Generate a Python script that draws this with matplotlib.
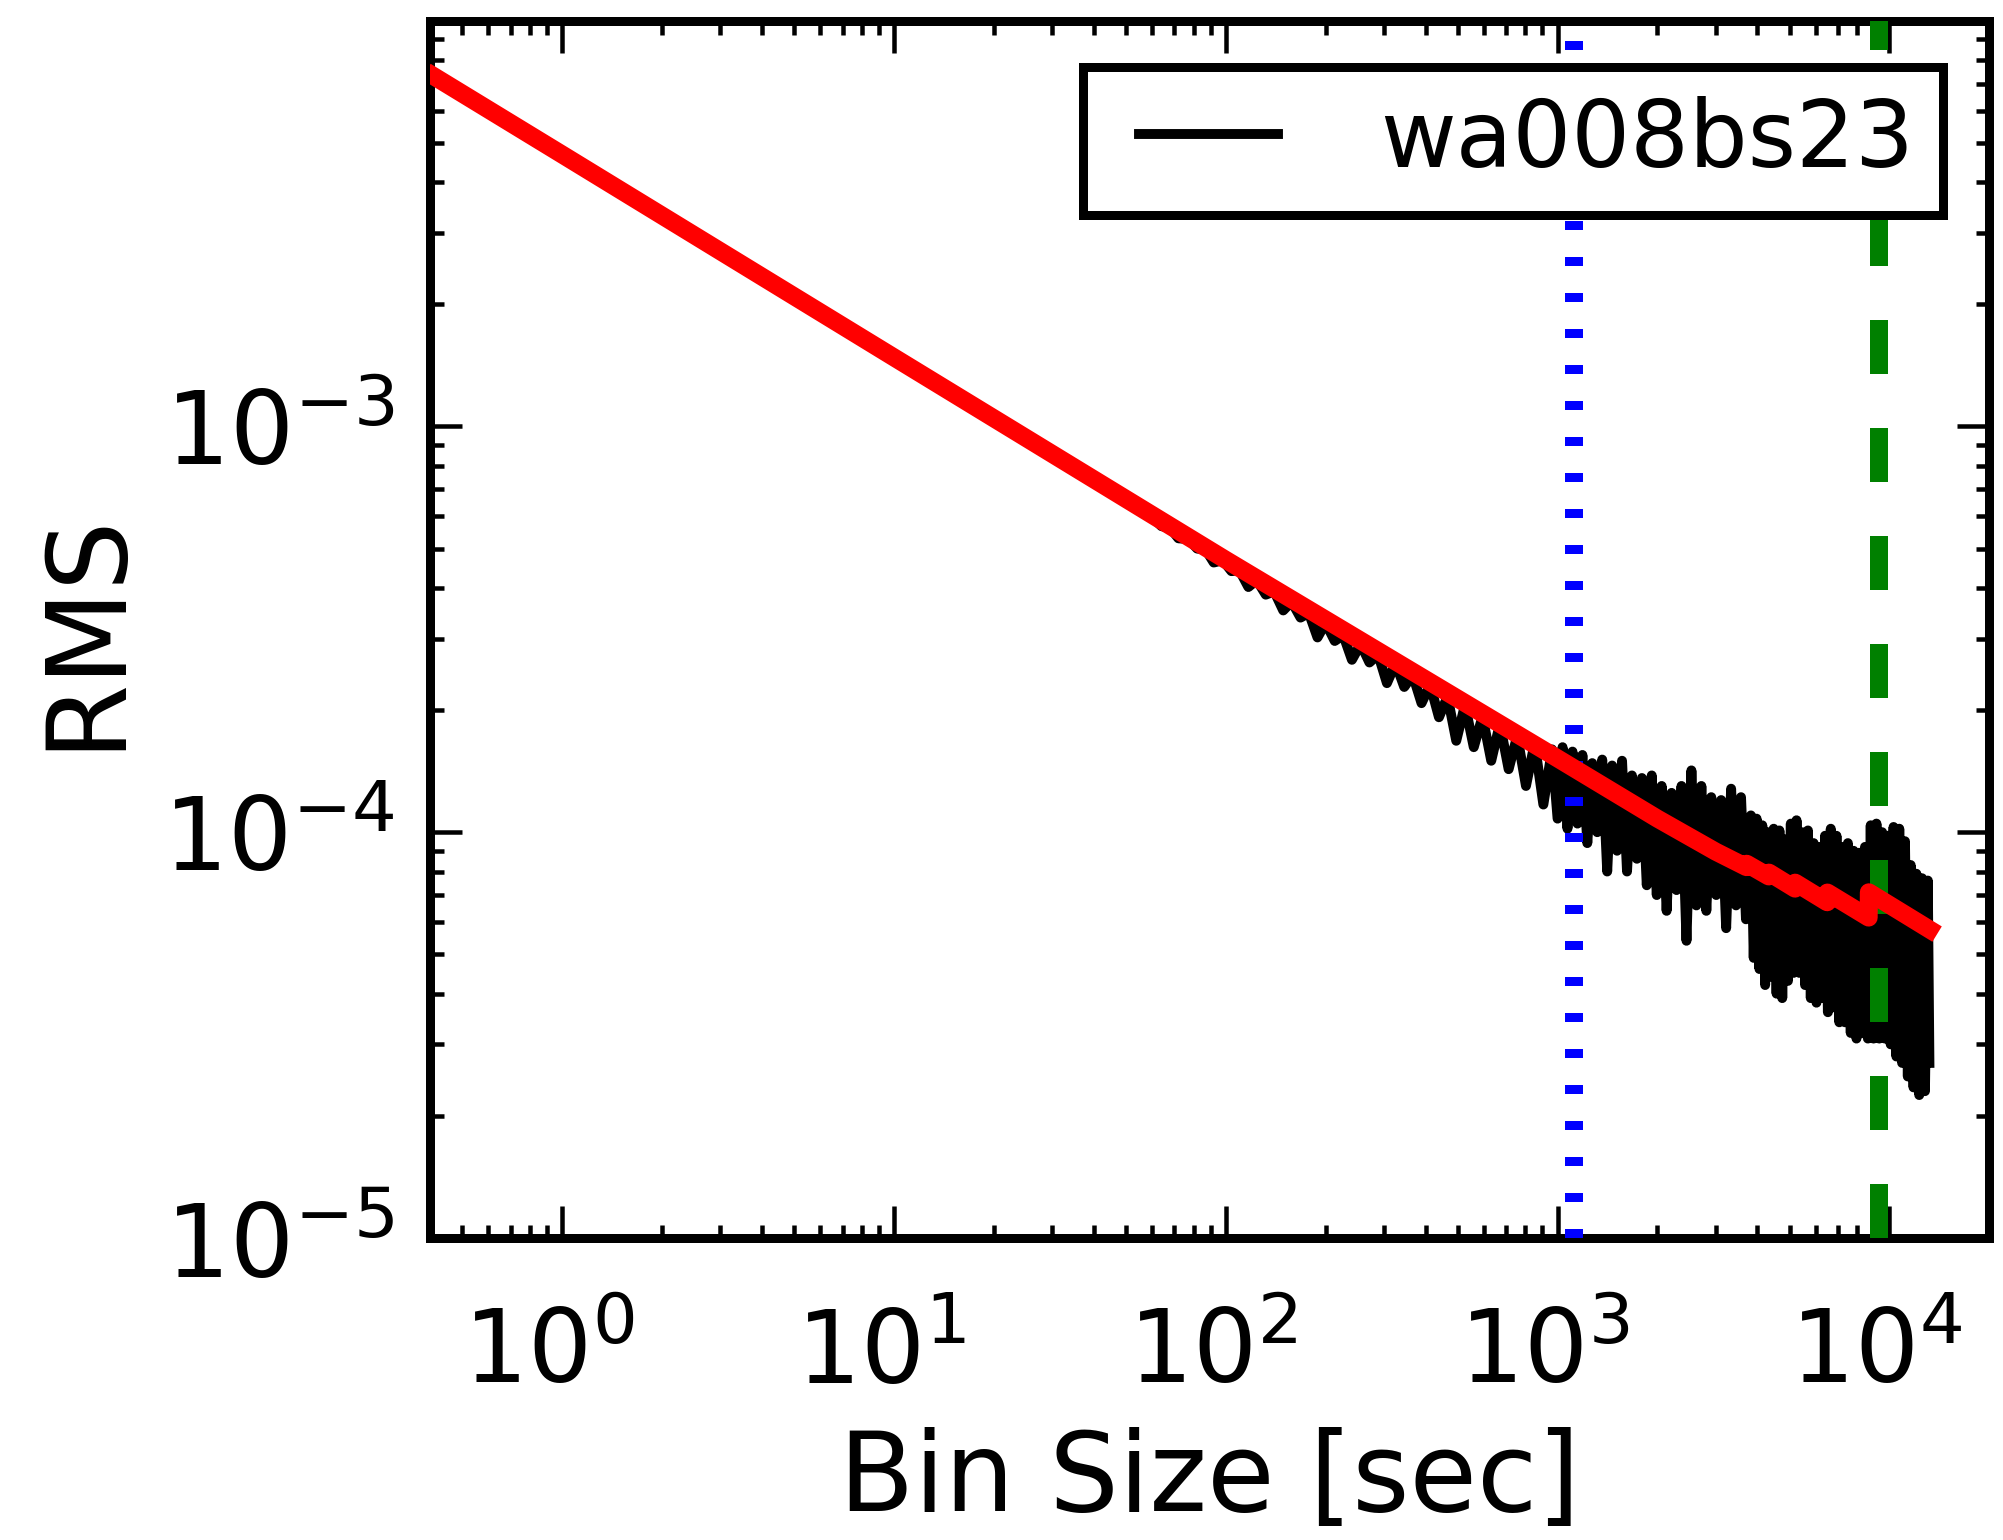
import matplotlib
matplotlib.use('Agg')
import matplotlib.pyplot as plt
from matplotlib.transforms import ScaledTranslation

# ---------------- data ----------------
red_x = [0.41, 1, 10, 100, 1000, 2000, 3000, 3710, 3715, 4330, 4335,
         5195, 5200, 6495, 6505, 8660, 8670, 13200]
red_y = [7.30e-3, 4.68e-3, 1.48e-3, 4.69e-4, 1.52e-4, 1.08e-4, 8.95e-5,
         8.20e-5, 8.36e-5, 7.78e-5, 7.95e-5, 7.26e-5, 7.51e-5, 6.72e-5,
         7.10e-5, 6.16e-5, 7.11e-5, 5.76e-5]

black_x = [0.41, 0.6, 1, 2, 5, 10, 20, 40,
           60, 64, 68, 72, 77, 82, 87, 92, 98, 104, 110, 117, 124, 132,
           140, 149, 158, 168, 178, 189, 200, 213, 226, 240, 255, 271, 288,
           306, 325, 345, 366, 389, 413, 439, 466, 495, 526, 559, 594, 631,
           670, 712, 756, 803, 853, 906, 962, 1000,
           1035, 1071, 1109, 1148, 1188, 1229, 1272, 1317, 1363, 1411, 1460,
           1511, 1564, 1619, 1675, 1734, 1795, 1857, 1922, 1990, 2059, 2131,
           2206, 2283, 2363, 2446, 2531, 2620, 2712, 2807, 2905, 3007, 3112,
           3221, 3334, 3450, 3571, 3696, 3825,
           3900, 3978, 4058, 4139, 4222, 4306, 4392, 4480, 4570, 4661, 4754,
           4849, 4946, 5045, 5146, 5249, 5354, 5461, 5570, 5682, 5795, 5911,
           6029, 6150, 6273, 6398, 6526, 6657, 6790, 6926, 7064, 7206, 7350,
           7497, 7647, 7800, 7956, 8115, 8277, 8443, 8612, 8784, 8960, 9139,
           9322, 9508, 9698, 9892, 10090, 10292, 10498, 10708, 10922, 11140,
           11363, 11590, 11822, 12058, 12300, 12546, 12797, 13053, 13200]
black_y = [7.25e-3, 6.0e-3, 4.66e-3, 3.30e-3, 2.09e-3, 1.475e-3, 1.043e-3, 7.37e-4,
           5.98e-4, 5.68e-4, 5.62e-4, 5.30e-4, 5.28e-4, 5.00e-4, 4.97e-4, 4.62e-4,
           4.68e-4, 4.40e-4, 4.42e-4, 4.02e-4, 4.18e-4, 3.85e-4, 3.92e-4, 3.52e-4,
           3.70e-4, 3.38e-4, 3.47e-4, 3.02e-4, 3.28e-4, 2.96e-4, 3.06e-4, 2.66e-4,
           2.91e-4, 2.62e-4, 2.74e-4, 2.33e-4, 2.61e-4, 2.28e-4, 2.44e-4, 2.08e-4,
           2.31e-4, 1.92e-4, 2.16e-4, 1.68e-4, 2.06e-4, 1.62e-4, 1.93e-4, 1.50e-4,
           1.85e-4, 1.43e-4, 1.73e-4, 1.30e-4, 1.66e-4, 1.17e-4, 1.60e-4, 1.08e-4,
           1.62e-4, 1.02e-4, 1.58e-4, 1.05e-4, 1.55e-4, 9.4e-5, 1.48e-4, 1.0e-4,
           1.51e-4, 8.0e-5, 1.46e-4, 9.0e-5, 1.50e-4, 8.0e-5, 1.38e-4, 8.6e-5,
           1.36e-4, 7.4e-5, 1.38e-4, 7.0e-5, 1.30e-4, 6.4e-5, 1.25e-4, 7.2e-5,
           1.30e-4, 5.4e-5, 1.42e-4, 6.6e-5, 1.30e-4, 6.4e-5, 1.22e-4, 7.0e-5,
           1.20e-4, 5.8e-5, 1.28e-4, 6.6e-5, 1.22e-4, 6.1e-5, 1.10e-4,
           4.9e-5, 1.08e-4, 4.6e-5, 1.04e-4, 4.2e-5, 1.0e-4, 4.4e-5, 1.02e-4,
           4.0e-5, 1.01e-4, 3.9e-5, 9.6e-5, 4.3e-5, 1.05e-4, 4.5e-5, 1.07e-4,
           4.5e-5, 1.0e-4, 4.2e-5, 1.01e-4, 3.9e-5, 9.4e-5, 3.8e-5, 9.2e-5,
           3.9e-5, 9.8e-5, 3.6e-5, 1.02e-4, 3.7e-5, 9.8e-5, 3.4e-5, 9.2e-5,
           3.4e-5, 9.4e-5, 3.2e-5, 9.0e-5, 3.1e-5, 8.9e-5, 3.2e-5, 9.2e-5,
           3.1e-5, 1.04e-4, 3.1e-5, 1.05e-4, 3.1e-5, 1.0e-4, 3.1e-5, 9.8e-5,
           3.0e-5, 1.03e-4, 2.8e-5, 1.02e-4, 2.7e-5, 9.5e-5, 2.5e-5, 8.3e-5,
           2.35e-5, 7.9e-5, 2.25e-5, 7.7e-5, 2.3e-5, 7.6e-5, 2.7e-5]

blue_x = 1120
green_x = 9330
legend_label = 'wa008bs23'
x_label = 'Bin Size [sec]'
y_label = 'RMS'
x_limits = (0.4, 2e4)
y_limits = (1e-5, 1e-2)
y_major_ticks = [1e-5, 1e-4, 1e-3]

# ---------------- style ----------------
plt.rcParams.update({
    'font.family': ['DejaVu Sans'],
    'lines.scale_dashes': False,
    'axes.linewidth': 1.0,
    'xtick.direction': 'in', 'ytick.direction': 'in',
    'xtick.top': True, 'ytick.right': True,
    'xtick.major.size': 3.6, 'ytick.major.size': 3.6,
    'xtick.minor.size': 1.5, 'ytick.minor.size': 1.5,
    'xtick.major.width': 0.5, 'ytick.major.width': 0.5,
    'xtick.minor.width': 0.5, 'ytick.minor.width': 0.5,
    'xtick.major.pad': 7.5, 'ytick.major.pad': 4,
    'xtick.labelsize': 11.2, 'ytick.labelsize': 11.2,
    'axes.labelsize': 12.2,
})

DPI = 648
fig = plt.figure(figsize=(2003.3 / DPI, 1540.3 / DPI), dpi=DPI, facecolor='white')
ax = fig.add_axes([430 / 2003, 1 - 1238 / 1540, (1989 - 430) / 2003, (1238 - 21) / 1540])

ax.plot(black_x, black_y, color='black', lw=1.1, label=legend_label, zorder=2)
ax.axvline(blue_x, color='blue', lw=2.0, linestyle=(0, (1, 3)), zorder=3)
ax.axvline(green_x, color='green', lw=2.0, linestyle=(0, (6, 6)), zorder=3)
ax.plot(red_x, red_y, color='red', lw=2.0, solid_joinstyle='round', zorder=4)

ax.set_xscale('log')
ax.set_yscale('log')
ax.set_xlim(*x_limits)
ax.set_ylim(*y_limits)
ax.set_yticks(y_major_ticks)
ax.set_ylim(*y_limits)
ax.set_xlabel(x_label, labelpad=2.6)
ax.set_ylabel(y_label, labelpad=2.6)

leg = ax.legend(loc='upper right', fontsize=10.3, numpoints=2, borderpad=0.31,
                handlelength=2.1, handletextpad=0.8, borderaxespad=0.5,
                fancybox=False, framealpha=1.0, edgecolor='black')
leg.get_frame().set_linewidth(1.0)

# nudge x tick labels slightly left, as in the reference
fig.canvas.draw()
shift = ScaledTranslation(-1.5 / 72, 0, fig.dpi_scale_trans)
for tick in ax.xaxis.get_major_ticks():
    tick.label1.set_transform(tick.label1.get_transform() + shift)

fig.savefig('out.png', dpi=DPI, facecolor='white')
